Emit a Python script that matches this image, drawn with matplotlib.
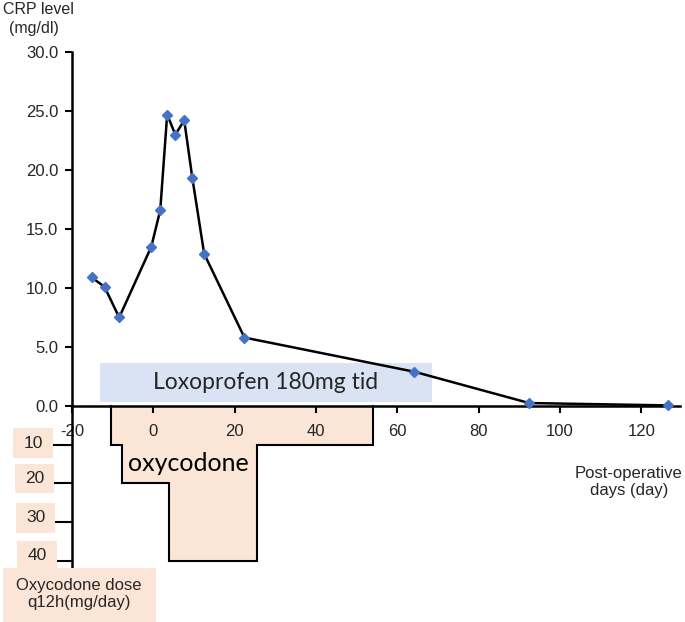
import matplotlib
matplotlib.use("Agg")
import matplotlib.pyplot as plt
from matplotlib.patches import Rectangle, Polygon
import numpy as np

# ---- data ----
days = [-15.2, -12.0, -8.4, -0.5, 1.7, 3.4, 5.4, 7.6, 9.6, 12.5, 22.4, 64.2, 92.4, 126.6]
crp = [10.9, 10.1, 7.5, 13.5, 16.6, 24.7, 23.0, 24.2, 19.3, 12.9, 5.8, 2.9, 0.25, 0.05]

oxy_change_days = [-10.3, -7.7, 3.8, 25.5, 54.0]
oxy_dose = [10, 20, 40, 10, 0]          # dose in effect from each change day
dose_ticks = [10, 20, 30, 40]

loxo_start, loxo_end = -13.0, 68.6
loxo_label = "Loxoprofen 180mg tid"

x_ticks = [-20, 0, 20, 40, 60, 80, 100, 120]
y_ticks = [0, 5, 10, 15, 20, 25, 30]

DOSE_SCALE = 0.328   # CRP units per mg on the shared vertical axis

# ---- figure ----
W, H = 685, 622
fig = plt.figure(figsize=(W / 100, H / 100), dpi=100)
ax_left, ax_right = 72 / W, 680 / W
ax_bottom, ax_top = 1 - 568 / H, 1 - 52 / H
ax = fig.add_axes([ax_left, ax_bottom, ax_right - ax_left, ax_top - ax_bottom])
ax.set_xlim(-20, 129.5)
ax.set_ylim(-13.73, 30)

tick_font = "Liberation Sans"
txt_color = "#262626"

# Oxycodone polygon
verts = [(oxy_change_days[0], 0)]
for i, d in enumerate(oxy_change_days):
    prev = 0 if i == 0 else oxy_dose[i - 1]
    verts.append((d, -prev * DOSE_SCALE))
    verts.append((d, -oxy_dose[i] * DOSE_SCALE))
poly_fill = Polygon(verts, closed=True, facecolor="#FBE5D6", edgecolor="none", zorder=1)
ax.add_patch(poly_fill)
vx, vy = zip(*verts)
ax.plot(vx, vy, color="black", lw=1.5, zorder=2, solid_joinstyle="miter")
ax.text(8.6, -4.9, "oxycodone", fontsize=18, family="Lato", ha="center", va="center",
        color="black", zorder=3)

# Loxoprofen bar
ax.add_patch(Rectangle((loxo_start, 0.34), loxo_end - loxo_start, 3.3,
                       facecolor="#DAE3F3", edgecolor="none", zorder=1))
ax.text((loxo_start + loxo_end) / 2 - 0.3, 1.95, loxo_label, fontsize=16.5, family="Lato",
        ha="center", va="center", color=txt_color, zorder=3)

# CRP line
ax.plot(days, crp, color="black", lw=1.8, zorder=4)
ax.plot(days, crp, linestyle="none", marker="D", markersize=5.5, color="#4472C4",
        markeredgecolor="#4472C4", zorder=5)

# Spines
for s in ["top", "right"]:
    ax.spines[s].set_visible(False)
ax.spines["bottom"].set_position(("data", 0))
ax.spines["bottom"].set_linewidth(1.8)
ax.spines["left"].set_linewidth(1.8)
ax.spines["bottom"].set_zorder(3)

ax.set_xticks(x_ticks)
ax.set_xticklabels([str(v) for v in x_ticks], fontsize=12, family=tick_font, color=txt_color)
ax.tick_params(axis="x", direction="out", length=5, width=1.5, pad=8)
ax.set_yticks(y_ticks)
ax.set_yticklabels([f"{v:.1f}" for v in y_ticks], fontsize=12, family=tick_font, color=txt_color)
ax.tick_params(axis="y", direction="out", length=5, width=1.5, pad=5)
ax.set_yticks([-d * DOSE_SCALE for d in dose_ticks], minor=True)
ax.tick_params(axis="y", which="minor", length=17, width=1.5, direction="out")

# Axis labels
fig.text(3 / W, 1 - 9 / H, "CRP level", fontsize=11.5, family=tick_font, ha="left", va="center",
         color=txt_color)
fig.text(9 / W, 1 - 29 / H, "(mg/dl)", fontsize=11.5, family=tick_font, ha="left", va="center",
         color=txt_color)
fig.text(629 / W, 1 - 482 / H, "Post-operative\ndays (day)", fontsize=12, family=tick_font,
         ha="center", va="center", color=txt_color, linespacing=1.1)

# Dose label boxes
box_specs = [(13, 428, 40, 30), (15, 464, 39, 29), (16, 503, 39, 30), (17, 541, 40, 29)]
for d, (bx, by, bw, bh) in zip(dose_ticks, box_specs):
    fig.patches.append(Rectangle((bx / W, 1 - (by + bh) / H), bw / W, bh / H,
                                 transform=fig.transFigure, facecolor="#FBE5D6",
                                 edgecolor="none", zorder=0))
    fig.text((bx + bw / 2) / W, 1 - (by + bh / 2) / H, str(d), fontsize=12.5,
             family=tick_font, ha="center", va="center", color=txt_color)

fig.patches.append(Rectangle((3 / W, 0), 153 / W, 54 / H, transform=fig.transFigure,
                             facecolor="#FBE5D6", edgecolor="none", zorder=0))
fig.text(79 / W, 1 - 594 / H, "Oxycodone dose\nq12h(mg/day)", fontsize=12,
         family=tick_font, ha="center", va="center", color=txt_color, linespacing=1.15)

fig.savefig("out.png", dpi=100)
